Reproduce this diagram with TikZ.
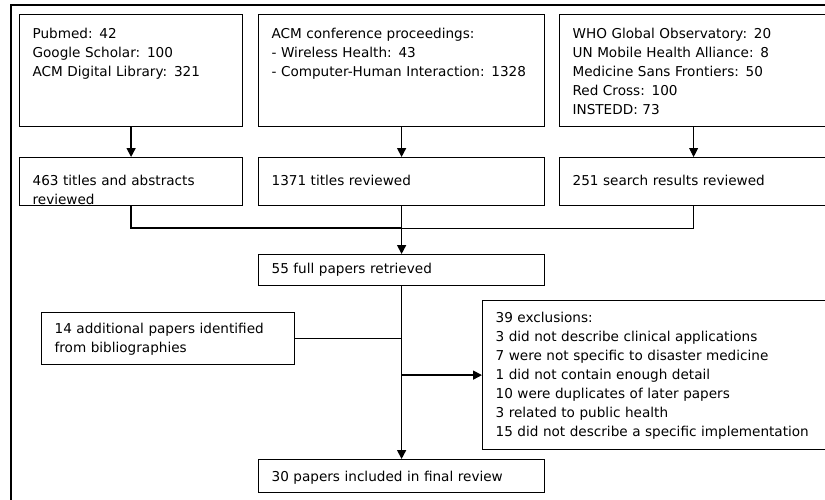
\documentclass[tikz,border=0pt]{standalone}
\usepackage{fontspec}
\setmainfont{DejaVu Sans}
\usetikzlibrary{arrows.meta}

\tikzset{
  box/.style={draw, line width=1.2pt, anchor=north west, inner xsep=13pt, inner ysep=0pt,
    align=left, font=\fontsize{13.6}{18.9}\selectfont},
  link/.style={line width=1.6pt},
  arr/.style={link, -{Triangle[length=9pt,width=9pt]}},
}

\begin{document}
\begin{tikzpicture}[x=1pt,y=-1pt]
      \useasboundingbox (0,0) rectangle (825,499);
      \draw[line width=2pt] (826,5) -- (11,5) -- (11,500);

      \node[box, text width=197pt, text height=24pt, text depth=88pt] (pub) at (19,14)
        {Pubmed: 42\\Google Scholar: 100\\ACM Digital Library: 321};
      \node[box, text width=260pt, text height=24pt, text depth=88pt] (acm) at (258,14)
        {ACM conference proceedings:\\- Wireless Health: 43\\- Computer-Human Interaction: 1328};
      \node[box, text width=242pt, text height=24pt, text depth=88pt] (who) at (559,14)
        {WHO Global Observatory: 20\\UN Mobile Health Alliance: 8\\Medicine Sans Frontiers: 50\\Red Cross: 100\\INSTEDD: 73};

      \node[box, text width=197pt, text height=28pt, text depth=20pt] (rev1) at (19,157)
        {463 titles and abstracts\\reviewed};
      \node[box, text width=260pt, text height=28pt, text depth=20pt] (rev2) at (258,157)
        {1371 titles reviewed};
      \node[box, text width=242pt, text height=28pt, text depth=20pt] (rev3) at (559,157)
        {251 search results reviewed};

      \node[box, text width=260pt, text height=19pt, text depth=12pt] (full) at (258,254)
        {55 full papers retrieved};
      \node[box, text width=227pt, text height=21pt, text depth=31pt] (extra) at (41,312)
        {14 additional papers identified\\from bibliographies};
      \node[box, text width=319pt, text height=22pt, text depth=127pt] (excl) at (482,300)
        {39 exclusions:\\3 did not describe clinical applications\\7 were not specific to disaster medicine\\1 did not contain enough detail\\10 were duplicates of later papers\\3 related to public health\\15 did not describe a specific implementation};
      \node[box, text width=260pt, text height=22pt, text depth=11pt] (final) at (258,459)
        {30 papers included in final review};

      \coordinate (merge) at (401,228);

      \draw[arr] (pub) -- (rev1);
      \draw[arr] (acm) -- (rev2);
      \draw[-{Triangle[length=9pt,width=9pt]}, line width=0.8pt] (who) -- (rev3);
      \draw[link] (rev1.south) |- (merge);
      \draw[line width=0.8pt] (rev3.south) |- (merge);
      \draw[arr] (rev2) -- (full);
      \draw[arr] (full) -- (final);
      \draw[link] (extra.east) -- (extra.east -| full.south);
      \draw[arr] (excl.west -| full.south) -- (excl.west);
    \end{tikzpicture}
\end{document}
